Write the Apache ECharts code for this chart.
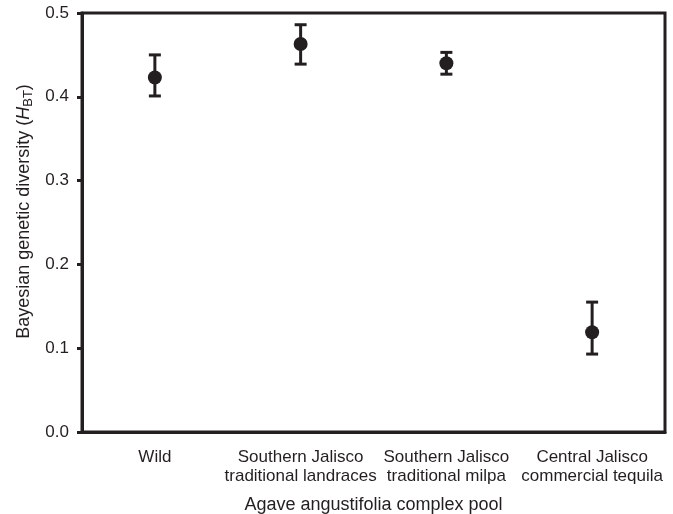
<!DOCTYPE html>
<html><head><meta charset="utf-8">
<script src="https://cdn.jsdelivr.net/npm/echarts@6/dist/echarts.min.js"></script>
<style>html,body{margin:0;padding:0;background:#fff}#c{width:673px;height:514px}</style>
</head><body><div id="c"></div>
<script>
const categories = ['Wild', 'Southern Jalisco\ntraditional landraces', 'Southern Jalisco\ntraditional milpa', 'Central Jalisco\ncommercial tequila'];
const means = [0.423, 0.463, 0.440, 0.119];
const lower = [0.401, 0.439, 0.427, 0.093];
const upper = [0.450, 0.486, 0.453, 0.155];
const yTicks = [0, 0.1, 0.2, 0.3, 0.4, 0.5];

const ink = '#231f20';
const txt = '#231f20';
const font = 'Liberation Sans, Arial';
const chart = echarts.init(document.getElementById('c'));
chart.setOption({
  animation: false,
  grid: { left: 82, right: 8, top: 13, bottom: 82, show: true, borderColor: ink, borderWidth: 3, backgroundColor: 'transparent', containLabel: false, outerBoundsMode: 'none' },
  xAxis: {
    type: 'category', data: categories, boundaryGap: true,
    axisLine: { lineStyle: { color: ink, width: 3 } },
    axisTick: { alignWithLabel: true, length: 5, lineStyle: { color: ink, width: 3 } },
    axisLabel: { color: txt, fontSize: 17, fontFamily: font, margin: 16, lineHeight: 19, interval: 0 },
    name: 'Agave angustifolia complex pool', nameLocation: 'middle', nameGap: 64,
    nameTextStyle: { color: txt, fontSize: 18, fontFamily: font }
  },
  yAxis: {
    type: 'value', min: yTicks[0], max: yTicks[yTicks.length - 1], interval: 0.1,
    splitLine: { show: false },
    axisLine: { show: true, lineStyle: { color: ink, width: 3 } },
    axisTick: { show: true, length: 5, lineStyle: { color: ink, width: 3 } },
    axisLabel: { color: txt, fontSize: 17, fontFamily: font, margin: 13, formatter: v => v.toFixed(1) },
    name: '{n|Bayesian genetic diversity (}{i|H}{s|BT}{n|)}', nameLocation: 'middle', nameGap: 47, nameRotate: 90,
    nameTextStyle: {
      color: txt, fontFamily: font, padding: [0, 0, 0, 22],
      rich: {
        n: { fontSize: 18, fontFamily: font, color: txt },
        i: { fontSize: 18, fontStyle: 'italic', fontFamily: font, color: txt },
        s: { fontSize: 13, fontFamily: font, color: txt, verticalAlign: 'bottom', padding: [7, 0, 0, 0] }
      }
    }
  },
  series: [
    {
      type: 'custom',
      data: categories.map((c, i) => [i, lower[i], upper[i]]),
      renderItem: function (params, api) {
        const lo = api.coord([api.value(0), api.value(1)]);
        const hi = api.coord([api.value(0), api.value(2)]);
        const w = 6;
        const st = { stroke: ink, lineWidth: 3, fill: null };
        return {
          type: 'group', children: [
            { type: 'line', shape: { x1: hi[0], y1: hi[1], x2: lo[0], y2: lo[1] }, style: st },
            { type: 'line', shape: { x1: hi[0] - w, y1: hi[1], x2: hi[0] + w, y2: hi[1] }, style: st },
            { type: 'line', shape: { x1: lo[0] - w, y1: lo[1], x2: lo[0] + w, y2: lo[1] }, style: st }
          ]
        };
      },
      z: 2
    },
    {
      type: 'scatter', data: means, symbol: 'circle', symbolSize: 14,
      itemStyle: { color: ink, opacity: 1 }, z: 3
    }
  ]
});
</script></body></html>
